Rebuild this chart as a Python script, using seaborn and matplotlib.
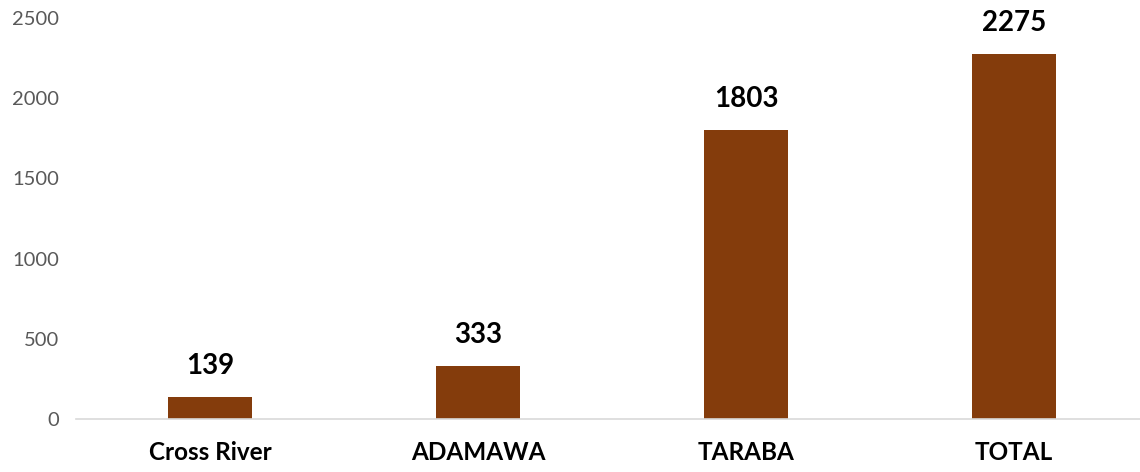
import matplotlib
matplotlib.use("Agg")
import matplotlib.pyplot as plt
import seaborn as sns
import pandas as pd

categories = ["Cross River", "ADAMAWA", "TARABA", "TOTAL"]
values = [139, 333, 1803, 2275]
yticks = [0, 500, 1000, 1500, 2000, 2500]

sns.set_theme(style="white")
plt.rcParams["font.family"] = ["Lato", "DejaVu Sans"]

df = pd.DataFrame({"cat": categories, "val": values})

fig = plt.figure(figsize=(11.4, 4.72), dpi=100)
ax = fig.add_axes([76/1140, 53/472, 1072/1140, 401/472])
sns.barplot(data=df, x="cat", y="val", color="#843C0C", width=0.313,
            saturation=1, linewidth=0, ax=ax)

ax.set_xlim(-0.5, 3.5)
ax.set_ylim(0, 2500)
ax.set_yticks(yticks)
ax.set_yticklabels([str(t) for t in yticks], fontsize=14.5, color="#595959")
ax.set_xticks(range(len(categories)))
ax.set_xticklabels(categories, fontsize=17.5, fontweight="bold", color="black")
ax.tick_params(axis="x", length=0, pad=16)
ax.tick_params(axis="y", length=0, pad=12)
ax.set_xlabel("")
ax.set_ylabel("")
for s in ["top", "right", "left"]:
    ax.spines[s].set_visible(False)
ax.spines["bottom"].set_color("#D9D9D9")
ax.spines["bottom"].set_linewidth(1.2)
ax.spines["bottom"].set_clip_on(False)

for i, v in enumerate(values):
    ax.annotate(str(v), (i, v), xytext=(0, 18), textcoords="offset pixels",
                ha="center", va="bottom", fontsize=20, fontweight="bold",
                color="black", annotation_clip=False)

fig.savefig("out.png", dpi=100)
